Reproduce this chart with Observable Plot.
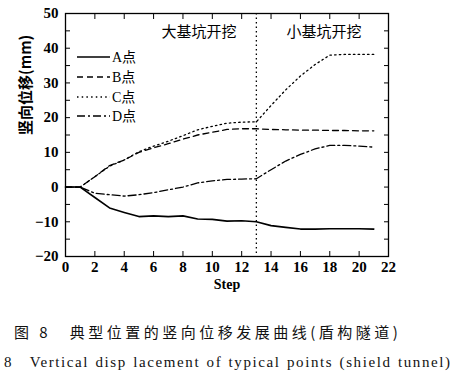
<!DOCTYPE html>
<html><head><meta charset="utf-8">
<script src="https://cdn.jsdelivr.net/npm/d3@7"></script>
<script src="https://cdn.jsdelivr.net/npm/@observablehq/plot@0.6"></script>
<style>
body{margin:0;background:#fff;}
#wrap{position:relative;width:454px;height:376px;overflow:hidden;}
.cap1{position:absolute;left:14px;top:321px;font-family:'Noto Sans CJK SC',sans-serif;font-size:15px;letter-spacing:3.5px;white-space:nowrap;color:#111;}
.cap2{position:absolute;left:4px;top:353px;font-family:'Liberation Serif',serif;font-size:15px;letter-spacing:1.6px;word-spacing:1px;white-space:pre;color:#111;}
#legend{position:absolute;left:0;top:0;}
</style></head>
<body><div id="wrap"></div>
<script>
const steps = [0,1,2,3,4,5,6,7,8,9,10,11,12,13,14,15,16,17,18,19,20,21];
const seriesA = [0,0,-3,-6,-7.3,-8.5,-8.3,-8.5,-8.3,-9.2,-9.3,-9.8,-9.7,-10,-11.1,-11.6,-12.1,-12.1,-12,-12,-12,-12.1];
const seriesB = [0,0,3,6.2,7.8,10,11.3,12.5,13.8,15,15.8,16.6,16.8,16.8,16.6,16.5,16.4,16.4,16.3,16.3,16.2,16.2];
const seriesC = [0,0,3,6,7.8,10.2,11.8,13.2,14.8,16.5,17.5,18.4,18.7,18.8,23.5,28,32,35.3,38,38.2,38.2,38.2];
const seriesD = [0,0,-1.8,-2.2,-2.6,-2.2,-1.6,-0.8,0,1.2,1.8,2.2,2.3,2.4,5,7.5,9.4,11,12,12,11.8,11.5];
const seriesNames = ["A点","B点","C点","D点"];
const xTicks = [0,2,4,6,8,10,12,14,16,18,20,22];
const yTicks = [-20,-15,-10,-5,0,5,10,15,20,25,30,35,40,45,50];
const phaseStep = [13];
const phaseLabels = [{label:"大基坑开挖", x:9.1, y:44.6},{label:"小基坑开挖", x:17.6, y:44.6}];
const xLabel = "Step";
const yLabel = "竖向位移(mm)";
const caption1 = "图 8　典型位置的竖向位移发展曲线(盾构隧道)";
const caption2 = "8　Vertical disp lacement of typical points (shield tunnel)";

const dashes = {"A点":null,"B点":"6,4","C点":"1.5,3.2","D点":"8,3,2,3"};
const allSeries = [seriesA,seriesB,seriesC,seriesD];
const rows = [];
allSeries.forEach((s,i)=>s.forEach((v,j)=>rows.push({step:steps[j], value:v, name:seriesNames[i]})));

const numFont = "'Liberation Serif', serif";
const lineMarks = seriesNames.map(n => Plot.line(rows.filter(r=>r.name===n), {
  x:"step", y:"value", stroke:"#000", strokeWidth: n==="A点"?1.6:1.3,
  strokeDasharray: dashes[n], curve:"linear"
}));

const chart = Plot.plot({
  width:454, height:300,
  marginLeft:65, marginRight:66, marginTop:13, marginBottom:44,
  style:{fontFamily:numFont, fontSize:"14px", color:"#000", background:"transparent"},
  x:{domain:[0,22], label:null},
  y:{domain:[-20,50], label:null},
  marks:[
    Plot.ruleX(phaseStep, {stroke:"#000", strokeWidth:1.3, strokeDasharray:"1.5,3"}),
    ...lineMarks,
    Plot.frame({stroke:"#000", strokeWidth:1.3}),
    Plot.axisX(xTicks, {anchor:"bottom", tickSize:-5, tickPadding:10, fontWeight:"bold", fontSize:15}),
    Plot.axisX(xTicks, {anchor:"top", tickSize:-5, tickFormat:()=>""}),
    Plot.axisY(yTicks, {anchor:"left", tickSize:-5, tickPadding:12, fontWeight:"bold", fontSize:15, tickFormat:d=> d%10===0 ? (d<0?"\u2212"+(-d):String(d)) : ""}),
    Plot.axisY(yTicks, {anchor:"right", tickSize:-5, tickFormat:()=>""}),
    Plot.text(phaseLabels, {x:"x", y:"y", text:"label", fontFamily:"'Noto Sans CJK SC', sans-serif", fontSize:15, fill:"#000"}),
    Plot.text([xLabel], {frameAnchor:"bottom", dy:32, fontWeight:"bold", fontSize:14, fill:"#000"}),
    Plot.text([yLabel], {frameAnchor:"left", dx:-39, rotate:-90, fontFamily:"'Noto Sans CJK SC', sans-serif", fontSize:15, fontWeight:"bold", fill:"#000"})
  ]
});
const wrap = document.getElementById("wrap");
wrap.appendChild(chart);

// legend
const ns = "http://www.w3.org/2000/svg";
const lg = document.createElementNS(ns,"svg");
lg.setAttribute("id","legend"); lg.setAttribute("width","160"); lg.setAttribute("height","130");
const legY = [57,77,97,116];
seriesNames.forEach((n,i)=>{
  const l = document.createElementNS(ns,"line");
  l.setAttribute("x1",77); l.setAttribute("x2",110); l.setAttribute("y1",legY[i]); l.setAttribute("y2",legY[i]);
  l.setAttribute("stroke","#000"); l.setAttribute("stroke-width", n==="A点"?1.6:1.3);
  if (dashes[n]) l.setAttribute("stroke-dasharray", dashes[n]);
  lg.appendChild(l);
  const t = document.createElementNS(ns,"text");
  t.setAttribute("x",112); t.setAttribute("y",legY[i]+5);
  t.setAttribute("font-family","'Liberation Serif','Noto Sans CJK SC',serif");
  t.setAttribute("font-size","14");
  t.textContent = n;
  lg.appendChild(t);
});
wrap.appendChild(lg);

const c1 = document.createElement("div"); c1.className="cap1"; c1.textContent=caption1; wrap.appendChild(c1);
const c2 = document.createElement("div"); c2.className="cap2"; c2.textContent=caption2; wrap.appendChild(c2);
</script></body></html>
